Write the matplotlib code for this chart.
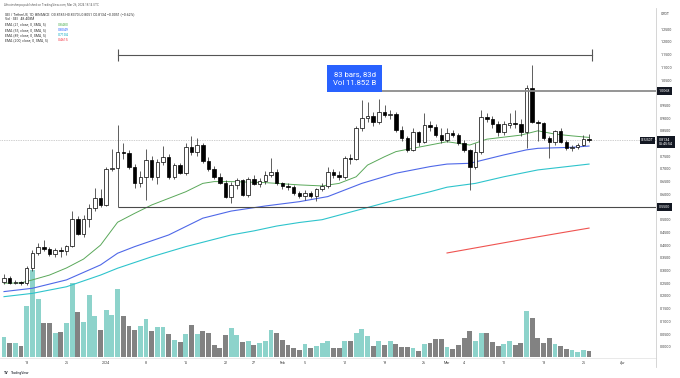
import matplotlib
matplotlib.use("Agg")
import matplotlib.pyplot as plt
from matplotlib.patches import Rectangle

plt.rcParams['font.family'] = ['Roboto', 'DejaVu Sans']

# SEI / TetherUS daily bars, Dec 14 2023 .. Mar 26 2024
opens = [0.256, 0.272, 0.252, 0.256, 0.250, 0.309, 0.368, 0.391, 0.385, 0.365,
         0.381, 0.377, 0.396, 0.502, 0.444, 0.503, 0.547, 0.584, 0.558, 0.698,
         0.702, 0.768, 0.764, 0.709, 0.643, 0.669, 0.735, 0.669, 0.729, 0.745,
         0.669, 0.715, 0.685, 0.785, 0.765, 0.795, 0.730, 0.700, 0.670, 0.643,
         0.591, 0.637, 0.656, 0.597, 0.660, 0.640, 0.652, 0.676, 0.689, 0.643,
         0.633, 0.627, 0.604, 0.593, 0.604, 0.593, 0.620, 0.633, 0.689, 0.676,
         0.667, 0.742, 0.739, 0.860, 0.900, 0.908, 0.886, 0.925, 0.912, 0.918,
         0.853, 0.820, 0.775, 0.847, 0.807, 0.873, 0.866, 0.835, 0.814, 0.843,
         0.832, 0.803, 0.774, 0.708, 0.768, 0.906, 0.898, 0.877, 0.847, 0.874,
         0.880, 0.876, 0.847, 1.017, 0.886, 0.880, 0.820, 0.807, 0.851, 0.807,
         0.781, 0.785, 0.794, 0.8185]
highs = [0.285, 0.280, 0.262, 0.260, 0.318, 0.381, 0.409, 0.420, 0.392, 0.388,
         0.392, 0.400, 0.534, 0.515, 0.519, 0.560, 0.625, 0.620, 0.709, 0.780,
         0.872, 0.800, 0.775, 0.720, 0.690, 0.780, 0.750, 0.740, 0.790, 0.760,
         0.725, 0.725, 0.800, 0.830, 0.820, 0.800, 0.745, 0.710, 0.685, 0.655,
         0.650, 0.665, 0.660, 0.670, 0.675, 0.665, 0.690, 0.742, 0.700, 0.650,
         0.645, 0.635, 0.612, 0.615, 0.612, 0.625, 0.645, 0.709, 0.700, 0.690,
         0.750, 0.760, 0.870, 0.971, 0.965, 0.925, 0.975, 0.950, 0.930, 0.925,
         0.870, 0.830, 0.860, 0.850, 0.919, 0.890, 0.875, 0.860, 0.860, 0.855,
         0.840, 0.812, 0.780, 0.801, 0.932, 0.919, 0.910, 0.890, 0.890, 0.919,
         0.932, 0.895, 1.030, 1.109, 0.893, 0.886, 0.830, 0.855, 0.862, 0.815,
         0.795, 0.800, 0.835, 0.837]
lows = [0.248, 0.245, 0.246, 0.244, 0.243, 0.300, 0.360, 0.375, 0.357, 0.355,
        0.352, 0.362, 0.392, 0.440, 0.432, 0.470, 0.535, 0.550, 0.552, 0.690,
        0.550, 0.740, 0.700, 0.624, 0.630, 0.578, 0.655, 0.640, 0.715, 0.660,
        0.660, 0.680, 0.675, 0.755, 0.750, 0.725, 0.690, 0.660, 0.640, 0.585,
        0.564, 0.620, 0.595, 0.590, 0.635, 0.630, 0.640, 0.670, 0.635, 0.620,
        0.615, 0.598, 0.585, 0.577, 0.585, 0.575, 0.612, 0.625, 0.665, 0.655,
        0.660, 0.720, 0.735, 0.850, 0.885, 0.870, 0.875, 0.905, 0.895, 0.845,
        0.810, 0.765, 0.770, 0.790, 0.800, 0.850, 0.825, 0.800, 0.805, 0.825,
        0.795, 0.765, 0.617, 0.700, 0.760, 0.885, 0.860, 0.830, 0.835, 0.860,
        0.860, 0.830, 0.781, 0.880, 0.810, 0.815, 0.741, 0.795, 0.800, 0.775,
        0.772, 0.780, 0.790, 0.8051]
closes = [0.272, 0.252, 0.256, 0.250, 0.309, 0.368, 0.391, 0.385, 0.365, 0.381,
          0.377, 0.396, 0.502, 0.444, 0.503, 0.547, 0.584, 0.558, 0.698, 0.702,
          0.768, 0.764, 0.709, 0.643, 0.669, 0.735, 0.669, 0.729, 0.745, 0.669,
          0.715, 0.685, 0.785, 0.765, 0.795, 0.730, 0.700, 0.670, 0.643, 0.591,
          0.637, 0.656, 0.597, 0.660, 0.640, 0.652, 0.676, 0.689, 0.643, 0.633,
          0.627, 0.604, 0.593, 0.604, 0.593, 0.620, 0.633, 0.689, 0.676, 0.667,
          0.742, 0.739, 0.860, 0.900, 0.908, 0.886, 0.925, 0.912, 0.918, 0.853,
          0.820, 0.775, 0.847, 0.807, 0.873, 0.866, 0.835, 0.814, 0.843, 0.832,
          0.803, 0.774, 0.708, 0.768, 0.906, 0.898, 0.877, 0.847, 0.877, 0.880,
          0.876, 0.847, 1.017, 0.886, 0.880, 0.820, 0.807, 0.851, 0.807, 0.781,
          0.785, 0.794, 0.8185, 0.8134]
# volume in millions of SEI
volumes = [159, 113, 113, 86, 413, 700, 470, 274, 274, 193,
           201, 274, 597, 360, 282, 502, 328, 220, 376, 341,
           551, 333, 253, 215, 247, 306, 207, 239, 239, 188,
           140, 121, 185, 255, 185, 212, 191, 94, 73, 180,
           234, 175, 121, 132, 99, 110, 132, 220, 191, 140,
           99, 73, 59, 105, 69, 86, 110, 126, 69, 75,
           129, 129, 196, 223, 167, 91, 132, 97, 129, 105,
           80, 80, 75, 45, 107, 117, 144, 144, 83, 67,
           96, 155, 208, 131, 197, 197, 123, 85, 107, 131,
           93, 117, 373, 315, 157, 117, 157, 104, 85, 67,
           53, 37, 53, 48.4]

# moving averages (bar index, value)
ema21_bar = [0, 3, 5, 8, 11, 14, 17, 20, 23, 26, 29, 32, 35, 37, 40, 46, 52, 56,
             59, 62, 64, 67, 69, 71, 75, 78, 82, 85, 91, 94, 97, 100, 103]
ema21 = [0.250, 0.251, 0.263, 0.282, 0.310, 0.345, 0.400, 0.490, 0.525, 0.558,
         0.584, 0.610, 0.643, 0.650, 0.650, 0.646, 0.637, 0.633, 0.643, 0.669,
         0.715, 0.748, 0.768, 0.777, 0.794, 0.807, 0.794, 0.817, 0.833, 0.850,
         0.837, 0.830, 0.824]
ema55_bar = [0, 5, 11, 17, 20, 23, 29, 35, 40, 46, 52, 57, 63, 69, 75, 78, 82,
             88, 92, 94, 100, 103]
ema55 = [0.217, 0.230, 0.263, 0.322, 0.368, 0.394, 0.440, 0.506, 0.534, 0.554,
         0.571, 0.591, 0.643, 0.683, 0.709, 0.719, 0.722, 0.755, 0.775, 0.781,
         0.785, 0.790]
ema89_bar = [0, 5, 11, 17, 20, 26, 32, 40, 44, 48, 52, 56, 60, 64, 69, 75, 78,
             83, 88, 94, 103]
ema89 = [0.197, 0.210, 0.236, 0.282, 0.309, 0.354, 0.394, 0.440, 0.456, 0.475,
         0.489, 0.500, 0.524, 0.548, 0.578, 0.610, 0.628, 0.643, 0.669, 0.696,
         0.719]
ema200_bar = [78, 85, 92, 98, 103]
ema200 = [0.369, 0.397, 0.425, 0.448, 0.467]

price_ticks = [1.25, 1.20, 1.15, 1.10, 1.05, 0.95, 0.90, 0.85, 0.75, 0.70, 0.65,
               0.60, 0.50, 0.45, 0.40, 0.35, 0.30, 0.25, 0.20, 0.15, 0.10, 0.05, 0.00]
date_bars = [4, 11, 18, 25, 32, 39, 44, 49, 53, 60, 67, 74, 78, 81, 88, 95, 102, 109]
date_labels = ["18", "25", "2024", "8", "15", "22", "27", "Feb", "5", "12", "19",
               "26", "Mar", "4", "11", "18", "25", "Apr"]

resistance = 1.0068
resistance_from = 66
support = 0.5500
support_from = 20
last_price = 0.8134
range_start, range_end = 20, 103
range_text = "83 bars, 83d\nVol 11.852 B"

W, H = 680, 378
fig = plt.figure(figsize=(W / 100, H / 100), dpi=100)
fig.patch.set_facecolor("white")


def frac(x0, y0, x1, y1):
    return [x0 / W, 1 - y1 / H, (x1 - x0) / W, (y1 - y0) / H]


ax = fig.add_axes(frac(0, 10, 656, 357))
axv = ax.twinx()
ax.set_zorder(axv.get_zorder() + 1)
ax.patch.set_visible(False)

# pixel scale of the pane: 254 px per 1.0 USDT, 5.68 px per bar
ax.set_ylim((346.7 - 357) / 254, (346.7 - 10) / 254)
ax.set_xlim(-4 / 5.68, 652 / 5.68)

bars = list(range(len(closes)))
up = [c >= o for o, c in zip(opens, closes)]

# volume
axv.bar(bars, volumes, width=0.86, color=["#8dd3cb" if u else "#828282" for u in up],
        linewidth=0)
axv.set_ylim(0, 8.07 * 347)
axv.axis("off")

# candles
body_lo = [min(o, c) for o, c in zip(opens, closes)]
body_h = [max(abs(c - o), 0.004) for o, c in zip(opens, closes)]
ax.vlines(bars, lows, highs, color="#333333", lw=0.55, zorder=3)
ax.bar(bars, body_h, bottom=body_lo, width=0.62,
       color=["white" if u else "black" for u in up],
       edgecolor="black", linewidth=0.5, zorder=4)

# EMAs
ax.plot(ema200_bar, ema200, color="#ef5350", lw=0.8, zorder=2)
ax.plot(ema89_bar, ema89, color="#2ec4cc", lw=0.8, zorder=2)
ax.plot(ema55_bar, ema55, color="#4f68e8", lw=0.8, zorder=2)
ax.plot(ema21_bar, ema21, color="#5aa85a", lw=0.7, zorder=2)

xmax = ax.get_xlim()[1]
ax.axhline(last_price, color="#a0a0a0", lw=0.5, ls=(0, (1, 1.5)), zorder=1)
ax.hlines(resistance, resistance_from, xmax, color="#8c8c8c", lw=1.3, zorder=5)
ax.hlines(support, support_from, xmax, color="#4a4a4a", lw=0.8, zorder=5)

# date range tool
top = (346.7 - 55) / 254
tick = 6 / 254
ax.plot([range_start, range_end + 0.5], [top, top], color="#555555", lw=0.8)
ax.vlines([range_start, range_end + 0.5], top - tick, top + tick, color="#555555", lw=0.8)
mid = (range_start + range_end + 0.5) / 2
ax.add_patch(Rectangle((mid - 4.85, (346.7 - 92) / 254), 9.7, 27 / 254,
                       facecolor="#2962ff", edgecolor="none", zorder=6))
ax.text(mid, (346.7 - 78.5) / 254, range_text, ha="center", va="center",
        color="white", fontsize=5.6, linespacing=1.5, zorder=7)

# axes decorations
for s in ax.spines.values():
    s.set_visible(False)
ax.yaxis.tick_right()
ax.set_yticks(price_ticks)
ax.set_yticklabels([f"{t:.4f}" for t in price_ticks])
ax.tick_params(axis="y", length=0, pad=3, labelsize=2.6, labelcolor="#404040")
ax.set_xticks(date_bars)
ax.set_xticklabels(date_labels)
ax.tick_params(axis="x", length=0, pad=2.6, labelsize=2.6, labelcolor="#404040")

ytr = ax.get_yaxis_transform()
box = dict(boxstyle="square,pad=0.45", fc="#131722", ec="none")
for val in (resistance, support):
    ax.annotate(f"{val:.4f}", xy=(1, val), xycoords=ytr, xytext=(2.2, 0),
                textcoords="offset points", ha="left", va="center", fontsize=2.6,
                color="white", bbox=box, annotation_clip=False)
ax.annotate(f"{last_price:.4f}\n05:45:54", xy=(1, last_price), xycoords=ytr,
            xytext=(2.2, 1.6), textcoords="offset points", ha="left", va="top",
            fontsize=2.6, linespacing=1.2, color="white", bbox=box, annotation_clip=False)
ax.annotate("SEIUSDT", xy=(1, last_price), xycoords=ytr, xytext=(-1.5, 0),
            textcoords="offset points", ha="right", va="center", fontsize=2.3,
            color="white", bbox=box, annotation_clip=False)

fig.add_artist(plt.Line2D([656 / W, 656 / W], [1 - 8 / H, 1 - 367 / H], color="#cfcfcf", lw=0.6))
fig.add_artist(plt.Line2D([0, 656 / W], [1 - 357.5 / H] * 2, color="#e0e0e0", lw=0.5, zorder=0))
fig.text(661 / W, 1 - 14 / H, "USDT", fontsize=2.6, color="#404040", va="center")

# legend block
fig.text(4 / W, 1 - 5 / H, "Altcoinsherpa published on TradingView.com, Mar 26, 2024 18:14 UTC",
         fontsize=2.2, color="#606060", va="center")
fig.text(5 / W, 1 - 14 / H,
         "SEI / TetherUS, 1D, BINANCE  O0.8185 H0.8370 L0.8051 C0.8134 \u22120.0051 (\u22120.62%)",
         fontsize=2.5, color="#303030", va="center")
fig.text(5 / W, 1 - 19 / H, "Vol \u00b7 SEI   48.408M", fontsize=2.5, color="#303030", va="center")
ema_rows = [("EMA (21, close, 0, SMA, 5)", "0.8480", "#4caf50"),
            ("EMA (55, close, 0, SMA, 5)", "0.8049", "#2962ff"),
            ("EMA (89, close, 0, SMA, 5)", "0.7104", "#00a8c0"),
            ("EMA (200, close, 0, SMA, 5)", "0.4615", "#f23645")]
for i, (name, val, col) in enumerate(ema_rows):
    y = 1 - (24.5 + 5.2 * i) / H
    fig.text(5 / W, y, name, fontsize=2.5, color="#303030", va="center")
    fig.text(58 / W, y, val, fontsize=2.5, color=col, va="center")

fig.text(4 / W, 1 - 373 / H, "TV", fontsize=2.6, color="#131722", weight="bold", va="center")
fig.text(11 / W, 1 - 373 / H, "TradingView", fontsize=2.4, color="#131722", va="center")

fig.savefig("out.png", dpi=100, facecolor="white")
